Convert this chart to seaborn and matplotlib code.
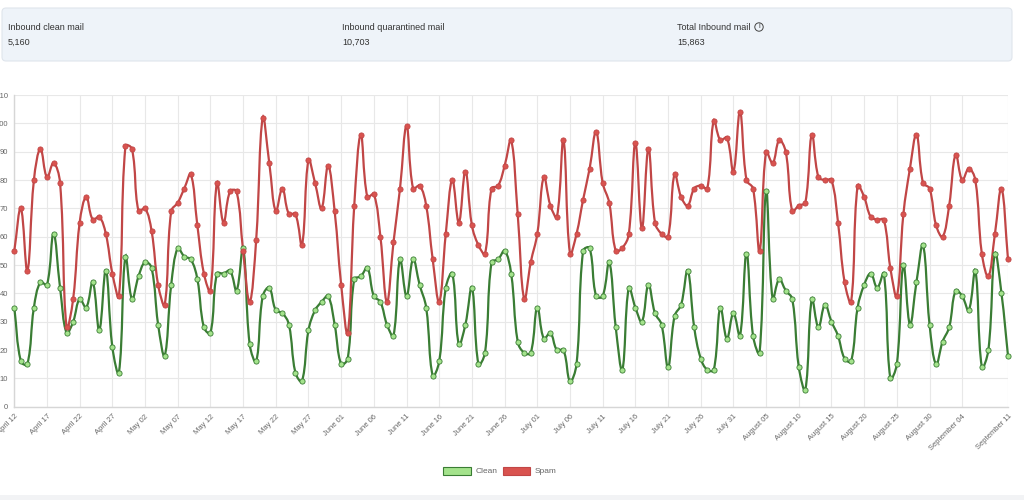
import numpy as np
import pandas as pd
import matplotlib
matplotlib.use("Agg")
import matplotlib.pyplot as plt
import seaborn as sns
from matplotlib.path import Path
from matplotlib.patches import PathPatch, Patch, FancyBboxPatch, Rectangle, Circle
from matplotlib.transforms import IdentityTransform

# --- dane ---
dates = pd.date_range("2023-04-12", "2023-09-11", freq="D")

clean = [35, 16, 15, 35, 44, 43, 61, 42, 26, 30, 38, 35, 44, 27, 48, 21, 12, 53, 38, 46,
         51, 49, 29, 18, 43, 56, 53, 52, 45, 28,
         26, 47, 47, 48, 41, 56, 22, 16, 39, 42, 34, 33, 29, 12, 9, 27, 34, 37, 39, 29,
         15, 17, 45, 46, 49, 39, 37, 29, 25, 52, 39,
         52, 43, 35, 11, 16, 42, 47, 22, 29, 42, 15, 19, 51, 52, 55, 47, 23, 19, 19, 35,
         24, 26, 20, 20, 9, 15, 55, 56, 39, 39, 51,
         28, 13, 42, 35, 30, 43, 33, 29, 14, 32, 36, 48, 28, 17, 13, 13, 35, 24, 33, 25,
         54, 25, 19, 76, 38, 45, 41, 38, 14, 6,
         38, 28, 36, 30, 25, 17, 16, 35, 43, 47, 42, 47, 10, 15, 50, 29, 44, 57, 29, 15,
         23, 28, 41, 39, 34, 48, 14, 20, 54, 40, 18]

spam = [55, 70, 48, 80, 91, 81, 86, 79, 28, 38, 65, 74, 66, 67, 61, 47, 39, 92, 91, 69,
        70, 62, 43, 36, 69, 72, 77, 82, 64, 47,
        41, 79, 65, 76, 76, 55, 37, 59, 102, 86, 69, 77, 68, 68, 57, 87, 79, 70, 85, 69,
        43, 26, 71, 96, 74, 75, 60, 37, 58, 77, 99,
        77, 78, 71, 52, 37, 61, 80, 65, 83, 64, 57, 54, 77, 78, 85, 94, 68, 38, 51, 61,
        81, 71, 67, 94, 54, 61, 73, 84, 97, 79, 72,
        55, 56, 61, 93, 63, 91, 65, 61, 60, 82, 74, 71, 77, 78, 77, 101, 94, 95, 83, 104,
        80, 77, 55, 90, 86, 94, 90, 69, 71, 72,
        96, 81, 80, 80, 65, 44, 37, 78, 74, 67, 66, 66, 49, 39, 68, 84, 96, 79, 77, 64,
        60, 71, 89, 80, 84, 80, 54, 46, 61, 77, 52]

card_titles = ["Inbound clean mail", "Inbound quarantined mail", "Total Inbound mail"]
card_values = ["5,160", "10,703", "15,863"]

df = pd.DataFrame({"day": np.arange(len(dates)), "Clean": clean, "Spam": spam})

GREEN_LINE = "#3a7d34"
GREEN_FILL = "#a4e38c"
RED_LINE = "#c14646"
RED_FILL = "#d9534f"


def spline_path(xs, ys, sx, sy, t=0.4):
    # krzywa jak w Chart.js (tension 0.4), odleglosci liczone w pikselach
    n = len(xs)
    cps = []
    for i in range(n):
        a, b = max(i - 1, 0), min(i + 1, n - 1)
        d01 = np.hypot((xs[i] - xs[a]) * sx, (ys[i] - ys[a]) * sy)
        d12 = np.hypot((xs[b] - xs[i]) * sx, (ys[b] - ys[i]) * sy)
        tot = d01 + d12
        fa = t * d01 / tot if tot else 0
        fb = t * d12 / tot if tot else 0
        dx, dy = xs[b] - xs[a], ys[b] - ys[a]
        prev_cp = (xs[i] - fa * dx, min(max(ys[i] - fa * dy, 0), 110))
        next_cp = (xs[i] + fb * dx, min(max(ys[i] + fb * dy, 0), 110))
        cps.append((prev_cp, next_cp))
    verts = [(xs[0], ys[0])]
    codes = [Path.MOVETO]
    for i in range(1, n):
        verts += [cps[i - 1][1], cps[i][0], (xs[i], ys[i])]
        codes += [Path.CURVE4] * 3
    return Path(verts, codes)


sns.set_theme(style="white")
plt.rcParams["font.family"] = ["Liberation Sans", "DejaVu Sans"]

W, H = 1024, 500
fig = plt.figure(figsize=(W / 100, H / 100), dpi=100)

# karta z podsumowaniem
fig.add_artist(FancyBboxPatch((2, H - 61), 1010, 53,
                              boxstyle="round,pad=0,rounding_size=4",
                              facecolor="#eef3f9", edgecolor="#dfe5ec", linewidth=0.8,
                              transform=IdentityTransform()))
for x0, title, val in zip([8, 342, 677], card_titles, card_values):
    fig.text(x0 / W, 1 - 27 / H, title, fontsize=6.5, color="#333333", va="center")
    fig.text(x0 / W, 1 - 42 / H, val, fontsize=6.5, color="#333333", va="center")
# ikonka "i" w kolku
fig.add_artist(Circle((759, H - 27), 4.2, facecolor="none", edgecolor="#444444",
                      linewidth=0.7, transform=IdentityTransform()))
fig.text(759 / W, 1 - 27 / H, "i", fontsize=5.5, color="#444444", ha="center", va="center")

# pasek na dole
fig.add_artist(Rectangle((0, 0), W, 5, facecolor="#f2f3f5", edgecolor="none",
                         transform=IdentityTransform()))

# wykres
left, right, top, bottom = 14.3, 1008, 95, 406.7
ax = fig.add_axes([left / W, 1 - bottom / H, (right - left) / W, (bottom - top) / H])
n = len(dates)
ax.set_xlim(0, n - 1)
ax.set_ylim(0, 110)
sx = (right - left) / (n - 1)
sy = (bottom - top) / 110

for col, lc, fc in [("Clean", GREEN_LINE, GREEN_FILL), ("Spam", RED_LINE, RED_FILL)]:
    p = spline_path(df["day"].values, df[col].values.astype(float), sx, sy)
    ax.add_patch(PathPatch(p, facecolor="none", edgecolor=lc, linewidth=1.6,
                           zorder=3, clip_on=False))
    sns.scatterplot(data=df, x="day", y=col, ax=ax, s=14, color=fc, edgecolor=lc,
                    linewidth=0.6, zorder=4, clip_on=False, legend=False)

tick_idx = list(range(0, n - 5, 5)) + [n - 1]
ax.set_xticks(tick_idx)
ax.set_xticklabels([f"{dates[i].strftime('%B')} {dates[i].day:02d}" for i in tick_idx],
                   rotation=45, ha="right", rotation_mode="anchor")
ax.set_yticks(range(0, 111, 10))
ax.set_xlabel("")
ax.set_ylabel("")
ax.grid(True, color="#e8e8e8", linewidth=0.8)
ax.set_axisbelow(True)
ax.tick_params(axis="both", labelsize=5.5, labelcolor="#666666", color="#e0e0e0",
               length=3, width=0.8, pad=1.5)
for s in ["top", "right"]:
    ax.spines[s].set_visible(False)
for s in ["left", "bottom"]:
    ax.spines[s].set_color("#d6d6d6")
    ax.spines[s].set_linewidth(1.0)

handles = [Patch(facecolor=GREEN_FILL, edgecolor=GREEN_LINE, linewidth=0.8, label="Clean"),
           Patch(facecolor=RED_FILL, edgecolor=RED_LINE, linewidth=0.8, label="Spam")]
fig.legend(handles=handles, loc="center", bbox_to_anchor=(500 / W, 1 - 471 / H),
           ncol=2, frameon=False, fontsize=6, labelcolor="#666666",
           handlelength=3.3, handleheight=1.1, handletextpad=0.5, columnspacing=0.7)

fig.savefig("out.png", dpi=100)
